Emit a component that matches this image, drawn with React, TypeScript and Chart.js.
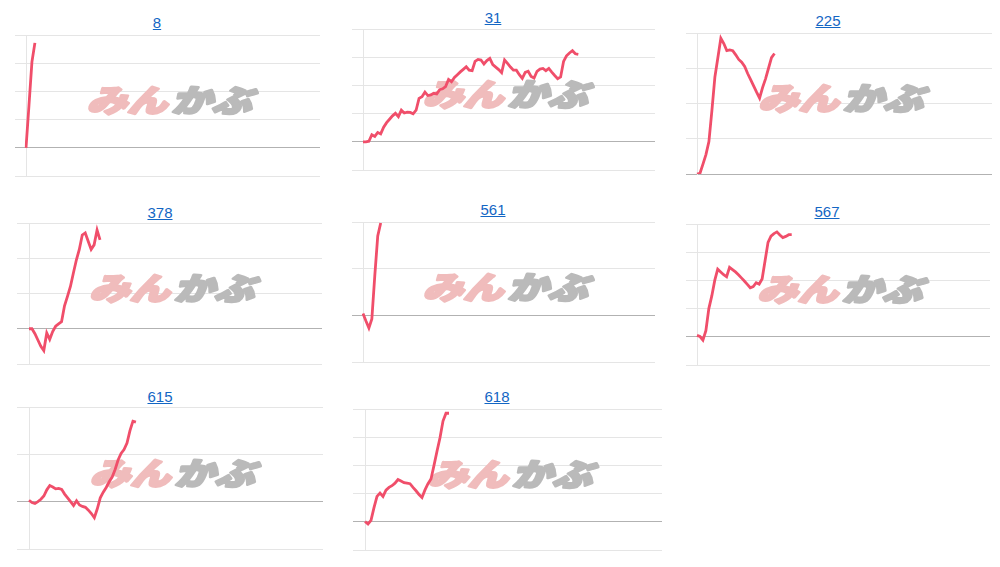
import React, { useEffect, useRef } from "react";
import { Chart, registerables } from "chart.js";

Chart.register(...registerables);

// ---- data ----
const TITLES = ["8", "31", "225", "378", "561", "567", "615", "618"];
const POINT_COUNT = 100;
const CATEGORIES = Array.from({ length: POINT_COUNT }, (_, i) => String(i + 1));

const S8 = [0, 1.5, 3.05, 3.72];
const S31 = [
  0, 0, 0.02, 0.25, 0.19, 0.33, 0.28, 0.52, 0.68, 0.8, 0.92, 1.01, 0.89, 1.12, 1.02, 1.05, 1.04, 0.99, 1.12,
  1.54, 1.6, 1.76, 1.64, 1.66, 1.72, 1.7, 1.85, 1.88, 1.96, 2.21, 2.13, 2.28, 2.38, 2.48, 2.57, 2.66, 2.54,
  2.52, 2.85, 2.92, 2.9, 2.76, 2.88, 2.96, 2.74, 2.65, 2.56, 2.45, 2.9, 2.78, 2.65, 2.54, 2.54, 2.38, 2.25,
  2.46, 2.5, 2.32, 2.26, 2.5, 2.58, 2.6, 2.52, 2.6, 2.47, 2.35, 2.24, 2.3, 2.85, 3.05, 3.15, 3.23, 3.12, 3.1,
];
const S225 = [
  0, 0.02, 0.28, 0.55, 0.92, 1.8, 2.75, 3.3, 3.85, 3.7, 3.5, 3.52, 3.5, 3.38, 3.25, 3.17, 3.05, 2.85, 2.68,
  2.5, 2.32, 2.15, 2.45, 2.7, 3.0, 3.3, 3.42,
];
const S378 = [
  0, 0, -0.14, -0.32, -0.5, -0.62, -0.12, -0.3, -0.08, 0.07, 0.14, 0.2, 0.65, 0.92, 1.2, 1.58, 1.95, 2.25,
  2.66, 2.72, 2.48, 2.25, 2.38, 2.8, 2.52,
];
const S561 = [0.04, -0.12, -0.27, -0.08, 0.85, 1.7, 1.98];
const S567 = [
  0.05, 0.01, -0.12, 0.22, 1.0, 1.45, 2.0, 2.4, 2.3, 2.2, 2.13, 2.46, 2.38, 2.3, 2.2, 2.09, 1.98, 1.86, 1.74,
  1.78, 1.92, 1.87, 2.05, 2.7, 3.35, 3.57, 3.66, 3.72, 3.61, 3.52, 3.56, 3.62, 3.62,
];
const S615 = [
  0.03, -0.02, -0.04, 0.0, 0.05, 0.12, 0.25, 0.34, 0.31, 0.27, 0.28, 0.26, 0.16, 0.08, 0.0, -0.08, 0.02, -0.07,
  -0.1, -0.12, -0.18, -0.25, -0.34, -0.15, 0.08, 0.2, 0.3, 0.42, 0.52, 0.68, 0.88, 1.02, 1.1, 1.24, 1.5, 1.7,
  1.68,
];
const S618 = [
  0.01, -0.08, 0.05, 0.5, 0.9, 1.02, 0.9, 1.12, 1.22, 1.28, 1.37, 1.5, 1.45, 1.39, 1.37, 1.35, 1.22, 1.1, 0.97,
  0.86, 1.13, 1.35, 1.52, 2.0, 2.5, 2.98, 3.57, 3.85, 3.85,
];
const SERIES = [S8, S31, S225, S378, S561, S567, S615, S618];
const Y_MIN = [-1, -1, 0, -1, -1, -1, -1, -1];
const Y_MAX = [4, 4, 4, 3, 2, 4, 2, 4];
const WATERMARK_A = "みん";
const WATERMARK_B = "かぶ";

// ---- layout (pixels) ----
const LAYOUT = [
  { left: 15, axisX: 26, right: 320, top: 35, bottom: 176, cx: 157, capTop: 17 },
  { left: 352, axisX: 363, right: 655, top: 29, bottom: 170, cx: 493, capTop: 12 },
  { left: 686, axisX: 697, right: 992, top: 33, bottom: 174, cx: 828, capTop: 15 },
  { left: 17, axisX: 29, right: 322, top: 223, bottom: 364, cx: 160, capTop: 207 },
  { left: 352, axisX: 363, right: 655, top: 222, bottom: 362, cx: 493, capTop: 204 },
  { left: 686, axisX: 697, right: 990, top: 224, bottom: 365, cx: 827, capTop: 206 },
  { left: 17, axisX: 29, right: 323, top: 407, bottom: 549, cx: 160, capTop: 391 },
  { left: 353, axisX: 365, right: 662, top: 409, bottom: 550, cx: 497, capTop: 391 },
];
const PAD = 4;
const LINE_COLOR = "rgb(240, 78, 106)";

const watermarkPlugin = {
  id: "watermark",
  beforeDatasetsDraw(chart: any) {
    const { ctx, chartArea } = chart;
    const cx = (chartArea.left + chartArea.right) / 2;
    const cy = (chartArea.top + chartArea.bottom) / 2 - 5;
    ctx.save();
    ctx.translate(cx, cy);
    ctx.transform(1.3, 0, -0.32, 1, 0, 0);
    ctx.font = '900 31px "Noto Sans CJK JP", sans-serif';
    ctx.textBaseline = "middle";
    ctx.lineJoin = "round";
    ctx.lineWidth = 2.5;
    const wa = ctx.measureText(WATERMARK_A).width;
    const wb = ctx.measureText(WATERMARK_B).width;
    const gap = 3;
    const total = wa + wb + gap;
    ctx.fillStyle = "rgb(240, 188, 188)";
    ctx.strokeStyle = "rgb(240, 188, 188)";
    ctx.strokeText(WATERMARK_A, -total / 2, 0);
    ctx.fillText(WATERMARK_A, -total / 2, 0);
    ctx.fillStyle = "rgb(186, 186, 186)";
    ctx.strokeStyle = "rgb(186, 186, 186)";
    ctx.strokeText(WATERMARK_B, -total / 2 + wa + gap, 0);
    ctx.fillText(WATERMARK_B, -total / 2 + wa + gap, 0);
    ctx.restore();
  },
};

function Panel({ index }: { index: number }) {
  const ref = useRef<HTMLCanvasElement | null>(null);
  const L = LAYOUT[index];
  useEffect(() => {
    if (!ref.current) return;
    const chart = new Chart(ref.current, {
      type: "line",
      data: {
        labels: CATEGORIES,
        datasets: [
          {
            data: SERIES[index],
            borderColor: LINE_COLOR,
            borderWidth: 2.8,
            pointRadius: 0,
            tension: 0,
            fill: false,
          },
        ],
      },
      options: {
        animation: false,
        responsive: true,
        maintainAspectRatio: false,
        layout: { padding: { top: PAD, bottom: PAD, left: 0, right: 0 } },
        plugins: { legend: { display: false }, tooltip: { enabled: false } },
        events: [],
        scales: {
          x: { display: false, offset: false },
          y: {
            display: true,
            min: Y_MIN[index],
            max: Y_MAX[index],
            ticks: { display: false, stepSize: 1 },
            border: { display: true, color: "rgba(0,0,0,0.1)" },
            grid: {
              drawTicks: true,
              tickLength: L.axisX - L.left,
              color: (c: any) => (c.tick && c.tick.value === 0 ? "rgba(0,0,0,0.3)" : "rgba(0,0,0,0.1)"),
            },
          },
        },
      },
      plugins: [watermarkPlugin],
    });
    return () => chart.destroy();
  }, [index]);

  return (
    <>
      <div
        style={{
          position: "absolute",
          left: L.cx - 100,
          top: L.capTop - 3,
          width: 200,
          textAlign: "center",
          fontFamily: '"Liberation Sans", Arial, sans-serif',
          fontSize: 15,
          lineHeight: "17px",
        }}
      >
        <a href="#" style={{ color: "#1366c4", textDecoration: "underline" }}>
          {TITLES[index]}
        </a>
      </div>
      <div
        style={{
          position: "absolute",
          left: L.left,
          top: L.top - PAD,
          width: L.right - L.left,
          height: L.bottom - L.top + PAD * 2,
        }}
      >
        <canvas ref={ref} />
      </div>
    </>
  );
}

export default function App() {
  return (
    <div style={{ position: "absolute", left: 0, top: 0, width: 1000, height: 567, background: "#fff" }}>
      {TITLES.map((_, i) => (
        <Panel key={i} index={i} />
      ))}
    </div>
  );
}
